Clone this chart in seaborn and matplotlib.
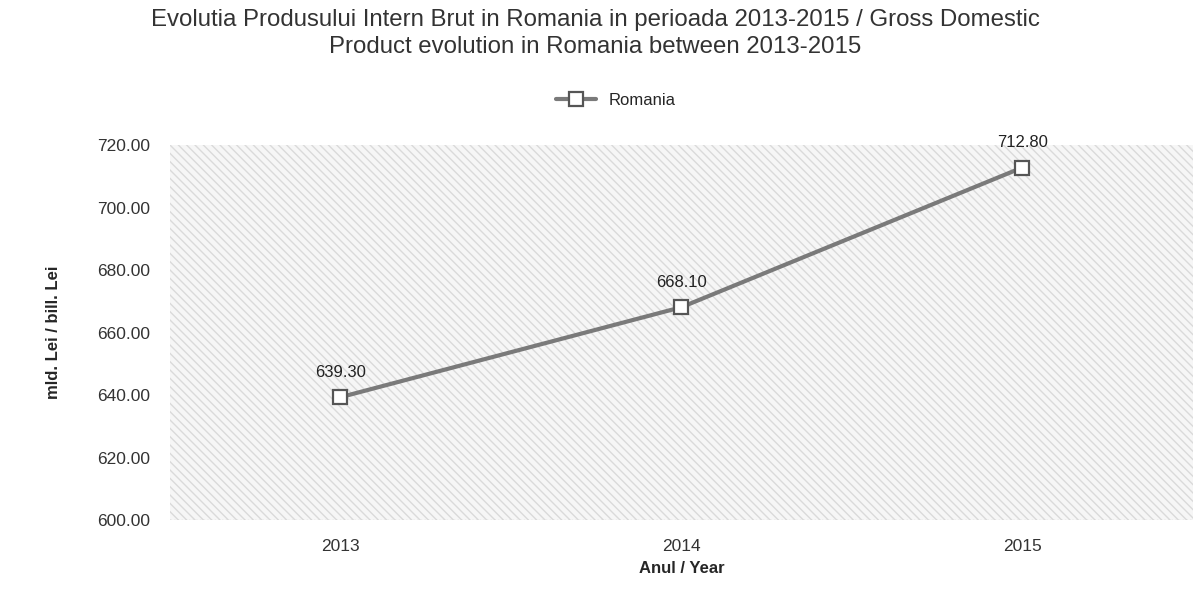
import pandas as pd
import matplotlib.pyplot as plt
import seaborn as sns

years = ["2013", "2014", "2015"]
gdp = [639.30, 668.10, 712.80]
series_name = "Romania"

df = pd.DataFrame({"Year": years, "GDP": gdp, "Country": series_name})

sns.set_style("white")
plt.rcParams['font.family'] = ['Liberation Sans', 'DejaVu Sans']

fig = plt.figure(figsize=(12.02, 6.05), dpi=100)
ax = fig.add_axes([0.1414, 0.1405, 0.851, 0.6198])

# hatched background like the scanned original
ax.patch.set_facecolor("#f6f6f6")
ax.patch.set_hatch("\\\\\\\\")
ax.patch.set_edgecolor("#dadada")
ax.patch.set_linewidth(0)

sns.lineplot(data=df, x="Year", y="GDP", hue="Country", palette=["#7a7a7a"],
             marker="s", markersize=10, markerfacecolor="white",
             markeredgecolor="#555555", markeredgewidth=1.6,
             linewidth=3, ax=ax)

for i, v in enumerate(gdp):
    ax.text(i, v + 5.5, f"{v:.2f}", ha="center", va="bottom", fontsize=12, color="#222222")

ax.set_xlim(-0.5, 2.5)
ax.set_ylim(600, 720)
ax.set_yticks(range(600, 721, 20))
ax.set_yticklabels([f"{t:.2f}" for t in range(600, 721, 20)], fontsize=12.5, color="#333333")
ax.tick_params(axis="x", labelsize=12.5, colors="#333333", length=0, pad=14)
ax.tick_params(axis="y", length=0, pad=14)
ax.grid(False)
for s in ax.spines.values():
    s.set_visible(False)
ax.axhline(600, color="#cccccc", lw=1, ls=":")

ax.set_xlabel("Anul / Year", fontsize=12, fontweight="bold", labelpad=5)
ax.set_ylabel("mld. Lei / bill. Lei", fontsize=12, fontweight="bold", labelpad=26)

fig.suptitle("Evolutia Produsului Intern Brut in Romania in perioada 2013-2015 / Gross Domestic\nProduct evolution in Romania between 2013-2015",
             fontsize=17.3, color="#333333", x=0.495, y=0.985, linespacing=1.3)

leg = ax.legend(loc="lower center", bbox_to_anchor=(0.436, 1.06), frameon=False,
                fontsize=12, handlelength=2.4)
leg.set_title(None)

fig.savefig("out.png", dpi=100)
